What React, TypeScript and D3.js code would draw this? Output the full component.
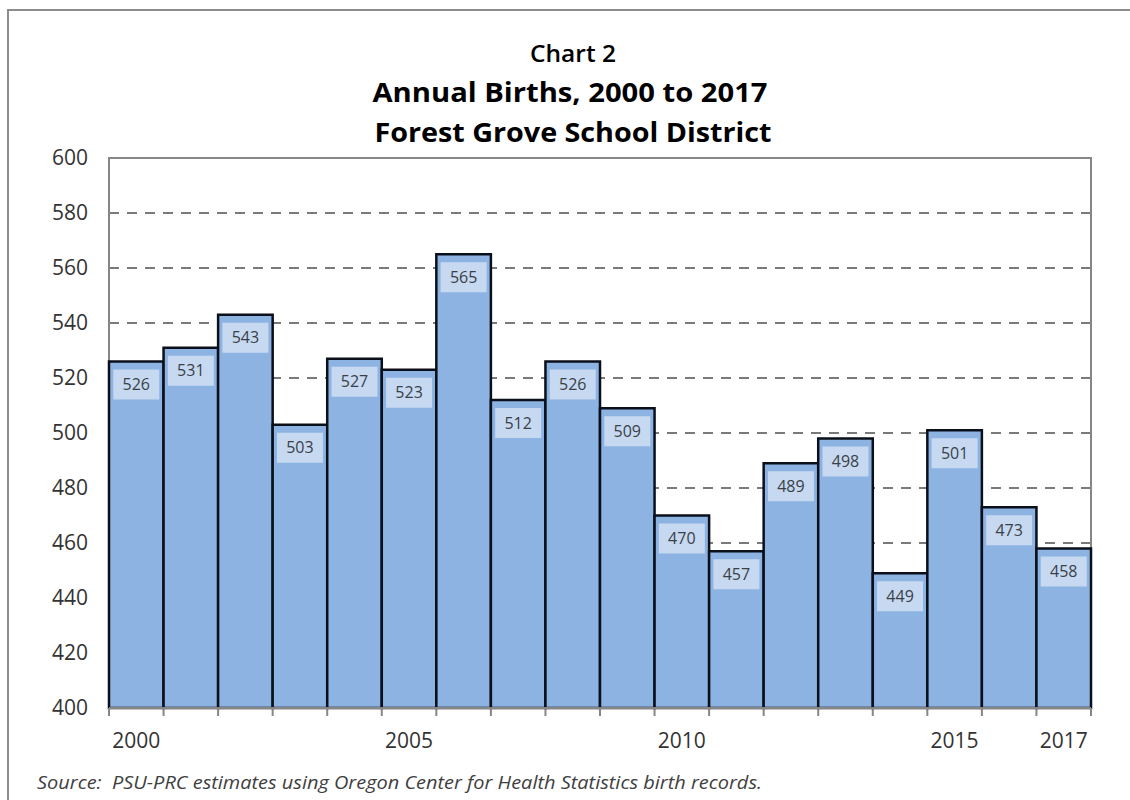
import React from "react";
import * as d3 from "d3";

const years = ["2000","2001","2002","2003","2004","2005","2006","2007","2008","2009","2010","2011","2012","2013","2014","2015","2016","2017"];
const births = [526,531,543,503,527,523,565,512,526,509,470,457,489,498,449,501,473,458];
const yTicks = [400,420,440,460,480,500,520,540,560,580,600];
const xLabelYears = ["2000","2005","2010","2015","2017"];
const titleLines = ["Chart 2","Annual Births, 2000 to 2017","Forest Grove School District"];
const sourceText = "Source:  PSU-PRC estimates using Oregon Center for Health Statistics birth records.";

const W = 1130, H = 800;
const plot = { left: 109, right: 1091, top: 158, bottom: 708 };
const FONT = "'Open Sans', 'Noto Sans', sans-serif";

export default function App() {
  const x = d3.scaleBand<string>().domain(years).range([plot.left, plot.right]).padding(0);
  const y = d3.scaleLinear().domain([400, 600]).range([plot.bottom, plot.top]);
  const bw = x.bandwidth();
  const boundaries = years.map((yr) => x(yr) as number).concat([plot.right]);

  return (
    <svg width={W} height={H} style={{ position: "absolute", left: 0, top: 0, background: "#fff" }}>
      {/* outer frame */}
      <rect x={8} y={10} width={W + 20} height={H + 20} fill="#fff" stroke="#8c8c8c" strokeWidth={2} />

      {/* titles */}
      <text x={573} y={62} textAnchor="middle" fontFamily={FONT} fontWeight={600} fontSize={24} fill="#000" textLength={86} lengthAdjust="spacingAndGlyphs">{titleLines[0]}</text>
      <text x={570} y={102} textAnchor="middle" fontFamily={FONT} fontWeight={700} fontSize={26} fill="#000" textLength={395} lengthAdjust="spacingAndGlyphs">{titleLines[1]}</text>
      <text x={573} y={142} textAnchor="middle" fontFamily={FONT} fontWeight={700} fontSize={26} fill="#000" textLength={397} lengthAdjust="spacingAndGlyphs">{titleLines[2]}</text>

      {/* gridlines */}
      {yTicks.filter((t) => t > 400 && t < 600).map((t) => (
        <line key={t} x1={plot.left} x2={plot.right} y1={y(t)} y2={y(t)} stroke="#7a7a7a" strokeWidth={2} strokeDasharray="10,8" />
      ))}

      {/* plot frame */}
      <rect x={plot.left} y={plot.top} width={plot.right - plot.left} height={plot.bottom - plot.top} fill="none" stroke="#868686" strokeWidth={2} />

      {/* bars */}
      {years.map((yr, i) => (
        <rect key={yr} x={x(yr)} y={y(births[i])} width={bw} height={y(400) - y(births[i])} fill="#8db3e2" stroke="#0a0f1a" strokeWidth={2.5} />
      ))}

      {/* value labels */}
      {years.map((yr, i) => {
        const cx = (x(yr) as number) + bw / 2;
        const top = y(births[i]) + 8;
        return (
          <g key={"l" + yr}>
            <rect x={cx - 23} y={top} width={46} height={30} fill="#c6d9f1" />
            <text x={cx} y={top + 15} dy="0.35em" textAnchor="middle" fontFamily={FONT} fontSize={16} fill="#3a3f48">{births[i]}</text>
          </g>
        );
      })}

      {/* x axis line and ticks */}
      <line x1={plot.left} x2={plot.right} y1={plot.bottom} y2={plot.bottom} stroke="#868686" strokeWidth={2} />
      {boundaries.map((bx, i) => (
        <line key={"t" + i} x1={bx} x2={bx} y1={plot.bottom} y2={plot.bottom + 8} stroke="#868686" strokeWidth={2} />
      ))}

      {/* y tick labels */}
      {yTicks.map((t) => (
        <text key={"y" + t} x={88} y={y(t)} dy="0.35em" textAnchor="end" fontFamily={FONT} fontSize={21} fill="#333">{t}</text>
      ))}

      {/* x labels */}
      {xLabelYears.map((yr) => (
        <text key={"x" + yr} x={(x(yr) as number) + bw / 2} y={748} textAnchor="middle" fontFamily={FONT} fontSize={21} fill="#333">{yr}</text>
      ))}

      {/* source */}
      <text x={37} y={789} fontFamily={FONT} fontStyle="italic" fontSize={18} fill="#404040" style={{ whiteSpace: "pre" }} textLength={725} lengthAdjust="spacingAndGlyphs">{sourceText}</text>
    </svg>
  );
}
